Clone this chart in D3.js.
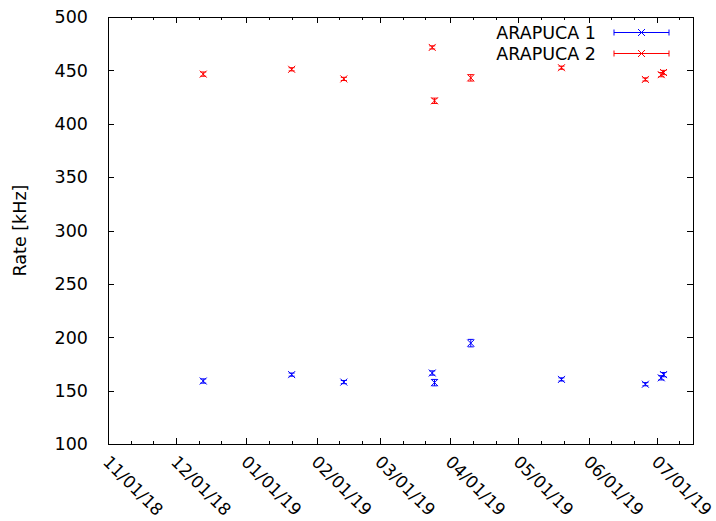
<!DOCTYPE html>
<html>
<head>
<meta charset="utf-8">
<script src="https://cdn.jsdelivr.net/npm/d3@7"></script>
<style>
  body { margin: 0; background: #fff; }
  text { font-family: "DejaVu Sans", sans-serif; fill: #000; }
</style>
</head>
<body>
<script>
// measurement dates (same for both detectors)
const dates = ["2018-12-13", "2019-01-21", "2019-02-13", "2019-03-24", "2019-03-25",
               "2019-04-10", "2019-05-20", "2019-06-26", "2019-07-03", "2019-07-04"];

// ARAPUCA 1 rate [kHz] and error
const rate1 = [159, 165, 158, 166.5, 157.5, 194.5, 160.5, 156, 162, 165];
const err1  = [2, 1.5, 1.5, 2, 3, 3.5, 1.5, 1.5, 2, 2];

// ARAPUCA 2 rate [kHz] and error
const rate2 = [446.5, 451, 442, 471.5, 421.5, 443, 452.5, 441.5, 446, 448];
const err2  = [2, 1.5, 1.5, 1.5, 2.5, 3, 1.5, 1.5, 2, 2];

const seriesNames = ["ARAPUCA 1", "ARAPUCA 2"];
const seriesColors = ["#0000ff", "#ff0000"];

const yTicks = [100, 150, 200, 250, 300, 350, 400, 450, 500];

const width = 716, height = 521;
const plotL = 108, plotR = 693, plotT = 17, plotB = 444;

const parse = d3.utcParse("%Y-%m-%d");
const fmt = d3.utcFormat("%m/%d/%y");

const x = d3.scaleUtc()
    .domain([parse("2018-11-01"), parse("2019-07-17")])
    .range([plotL, plotR]);

const y = d3.scaleLinear()
    .domain([100, 500])
    .range([plotB, plotT]);

const svg = d3.select("body").append("svg")
    .attr("width", width)
    .attr("height", height);

// ticks
const majorX = d3.utcMonth.range(parse("2018-11-01"), x.domain()[1]);
const minorX = [];
majorX.forEach(m => {
  [10, 20].forEach(k => {
    const d = d3.utcDay.offset(m, k);
    if (d < x.domain()[1]) minorX.push(d);
  });
});

const tickG = svg.append("g").attr("stroke", "#000").attr("stroke-width", 1);

majorX.forEach(d => {
  const px = Math.round(x(d)) + 0.5;
  tickG.append("line").attr("x1", px).attr("x2", px).attr("y1", plotB).attr("y2", plotB - 6);
  tickG.append("line").attr("x1", px).attr("x2", px).attr("y1", plotT).attr("y2", plotT + 6);
});
minorX.forEach(d => {
  const px = Math.round(x(d)) + 0.5;
  tickG.append("line").attr("x1", px).attr("x2", px).attr("y1", plotB).attr("y2", plotB - 3);
  tickG.append("line").attr("x1", px).attr("x2", px).attr("y1", plotT).attr("y2", plotT + 3);
});
yTicks.forEach(v => {
  const py = Math.round(y(v)) + 0.5;
  tickG.append("line").attr("x1", plotL).attr("x2", plotL + 6).attr("y1", py).attr("y2", py);
  tickG.append("line").attr("x1", plotR).attr("x2", plotR - 6).attr("y1", py).attr("y2", py);
});

// border
svg.append("rect")
    .attr("x", plotL + 0.5).attr("y", plotT + 0.5)
    .attr("width", plotR - plotL).attr("height", plotB - plotT)
    .attr("fill", "none").attr("stroke", "#000").attr("stroke-width", 1);

// y tick labels
svg.append("g").selectAll("text")
  .data(yTicks)
  .enter().append("text")
    .attr("x", plotL - 20)
    .attr("y", d => y(d))
    .attr("dy", "0.36em")
    .attr("text-anchor", "end")
    .attr("font-size", "17.5px")
    .text(d => d);

// x tick labels, rotated
svg.append("g").selectAll("text")
  .data(majorX)
  .enter().append("text")
    .attr("transform", d => "translate(" + (x(d) - 6) + "," + (plotB + 19) + ") rotate(45)")
    .attr("text-anchor", "start")
    .attr("font-size", "17px")
    .text(d => fmt(d));

// y axis label
svg.append("text")
    .attr("transform", "translate(26," + ((plotT + plotB) / 2) + ") rotate(-90)")
    .attr("text-anchor", "middle")
    .attr("font-size", "17.5px")
    .text("Rate [kHz]");

// data with error bars
const series = [
  {name: seriesNames[0], color: seriesColors[0], vals: rate1, errs: err1},
  {name: seriesNames[1], color: seriesColors[1], vals: rate2, errs: err2}
];

const m = 3.5, cap = 3;

function cross(g, cx, cy, color) {
  g.append("line").attr("x1", cx - m).attr("x2", cx + m).attr("y1", cy - m).attr("y2", cy + m)
    .attr("stroke", color);
  g.append("line").attr("x1", cx - m).attr("x2", cx + m).attr("y1", cy + m).attr("y2", cy - m)
    .attr("stroke", color);
}

series.forEach(s => {
  const g = svg.append("g").attr("stroke-width", 1);
  dates.forEach((ds, i) => {
    const cx = x(parse(ds));
    const cy = y(s.vals[i]);
    const y0 = y(s.vals[i] - s.errs[i]);
    const y1 = y(s.vals[i] + s.errs[i]);
    g.append("line").attr("x1", cx).attr("x2", cx).attr("y1", y0).attr("y2", y1).attr("stroke", s.color);
    g.append("line").attr("x1", cx - cap).attr("x2", cx + cap).attr("y1", y0).attr("y2", y0).attr("stroke", s.color);
    g.append("line").attr("x1", cx - cap).attr("x2", cx + cap).attr("y1", y1).attr("y2", y1).attr("stroke", s.color);
    cross(g, cx, cy, s.color);
  });
});

// legend
series.forEach((s, i) => {
  const ly = 32.5 + i * 21;
  const g = svg.append("g").attr("stroke-width", 1);
  svg.append("text")
    .attr("x", 596).attr("y", ly)
    .attr("dy", "0.36em")
    .attr("text-anchor", "end")
    .attr("font-size", "17.5px")
    .text(s.name);
  g.append("line").attr("x1", 614).attr("x2", 669).attr("y1", ly).attr("y2", ly).attr("stroke", s.color);
  g.append("line").attr("x1", 614).attr("x2", 614).attr("y1", ly - 3).attr("y2", ly + 3).attr("stroke", s.color);
  g.append("line").attr("x1", 669).attr("x2", 669).attr("y1", ly - 3).attr("y2", ly + 3).attr("stroke", s.color);
  cross(g, 641.5, ly, s.color);
});
</script>
</body>
</html>
